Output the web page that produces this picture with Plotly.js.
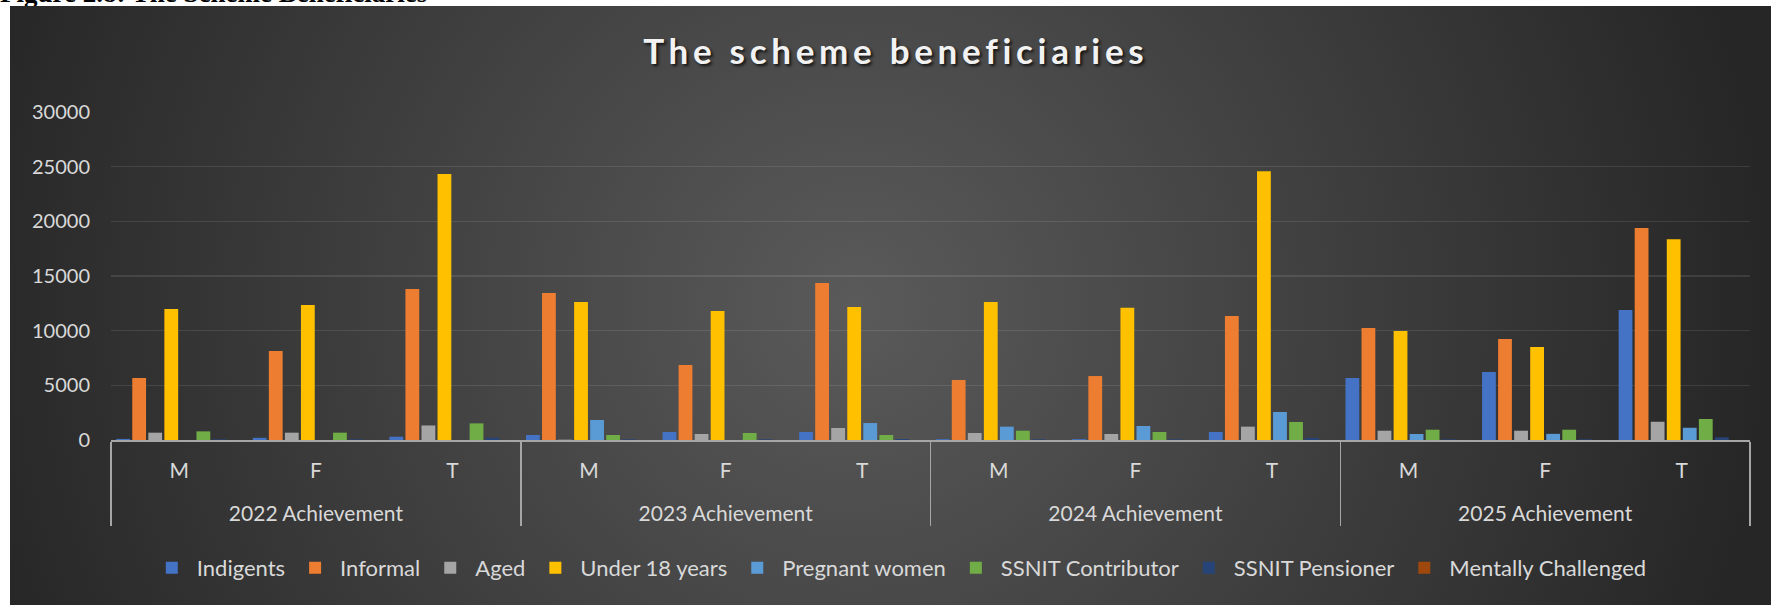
<!DOCTYPE html>
<html>
<head>
<meta charset="utf-8">
<script src="https://cdn.plot.ly/plotly-3.0.1.min.js"></script>
<style>
  html, body { margin: 0; padding: 0; background: #ffffff; width: 1771px; height: 605px; overflow: hidden; }
  #caption { position: absolute; left: 0; top: -20px; font-family: "Liberation Serif", serif; font-weight: bold;
             font-size: 27px; line-height: 27px; color: #000; white-space: nowrap; }
  #chart { position: absolute; left: 10px; top: 6px; width: 1761px; height: 599px;
           background: radial-gradient(ellipse 52% 150% at 48% 50%, #5a5a5a 0%, #262626 100%); }
  #chart .gtitle { letter-spacing: 4.7px; }
</style>
</head>
<body>
<div id="caption">Figure 2.8: The Scheme Beneficiaries</div>
<div id="chart"></div>
<script>
// ---- data ----
const years = ["2022 Achievement", "2023 Achievement", "2024 Achievement", "2025 Achievement"];
const sexes = ["M", "F", "T"];

const indigents   = [100, 200, 300, 460, 730, 730, 80, 80, 730, 5670, 6220, 11880];
const informal    = [5670, 8140, 13800, 13440, 6860, 14350, 5490, 5850, 11340, 10240, 9230, 19380];
const aged        = [670, 670, 1330, 30, 550, 1100, 640, 550, 1220, 850, 850, 1670];
const under18     = [11980, 12340, 24320, 12620, 11790, 12160, 12620, 12100, 24590, 9960, 8500, 18370];
const pregnant    = [0, 0, 0, 1830, 0, 1550, 1220, 1280, 2560, 550, 560, 1120];
const contributor = [790, 670, 1520, 460, 640, 460, 850, 730, 1650, 940, 940, 1920];
const pensioner   = [60, 60, 200, 60, 60, 90, 60, 60, 180, 60, 60, 240];
const mentally    = [0, 0, 0, 0, 0, 0, 0, 0, 0, 0, 0, 0];

const seriesNames  = ["Indigents", "Informal", "Aged", "Under 18 years", "Pregnant women",
                      "SSNIT Contributor", "SSNIT Pensioner", "Mentally Challenged"];
const seriesValues = [indigents, informal, aged, under18, pregnant, contributor, pensioner, mentally];
const seriesColors = ["#4472C4", "#ED7D31", "#A5A5A5", "#FFC000", "#5B9BD5", "#70AD47", "#264478", "#9E480E"];

// multicategory x (inner labels get an empty second line so the year row sits lower, as in the reference)
const xOuter = [], xInner = [];
years.forEach(y => sexes.forEach(s => { xOuter.push(y); xInner.push(s + "<br>\u00a0"); }));

const FONT = "Lato, 'Open Sans', sans-serif";
const traces = seriesNames.map((name, i) => ({
  type: "bar",
  name: name,
  x: [xOuter, xInner],
  y: seriesValues[i],
  marker: { color: seriesColors[i], line: { width: 0 } },
  hoverinfo: "none"
}));

const layout = {
  width: 1761,
  height: 599,
  paper_bgcolor: "rgba(0,0,0,0)",
  plot_bgcolor: "rgba(0,0,0,0)",
  margin: { l: 101, r: 21, t: 106, b: 165, pad: 0 },
  barmode: "group",
  bargap: 0.06,
  bargroupgap: 0.14,
  title: {
    text: "The scheme beneficiaries",
    x: 0.503, xanchor: "center",
    y: 0.923, yanchor: "middle",
    font: { family: FONT, size: 35, weight: 700, color: "#f2f2f2", shadow: "2px 2px 3px rgba(0,0,0,0.75)" }
  },
  xaxis: {
    type: "multicategory",
    tickfont: { family: FONT, size: 21, color: "#d9d9d9" },
    showline: true, linecolor: "#a6a6a6", linewidth: 1.5,
    showdividers: true, dividercolor: "#a6a6a6", dividerwidth: 1.5,
    showgrid: false, ticks: "", zeroline: false,
    ticklabelstandoff: 11
  },
  yaxis: {
    range: [0, 30000], dtick: 5000, tick0: 0,
    tickformat: "d",
    tickfont: { family: FONT, size: 20, color: "#d9d9d9" },
    gridcolor: "rgba(255,255,255,0.10)", gridwidth: 1.5,
    showline: false, zeroline: false, ticks: "",
    ticklabelstandoff: 20
  },
  legend: {
    orientation: "h",
    xref: "container", yref: "container",
    x: 0.505, xanchor: "center",
    y: 0.062, yanchor: "middle",
    font: { family: FONT, size: 22, color: "#d9d9d9" },
    bgcolor: "rgba(0,0,0,0)",
    traceorder: "normal",
    itemwidth: 40
  },
  showlegend: true
};

Plotly.newPlot("chart", traces, layout, { staticPlot: true, displayModeBar: false });
</script>
</body>
</html>
